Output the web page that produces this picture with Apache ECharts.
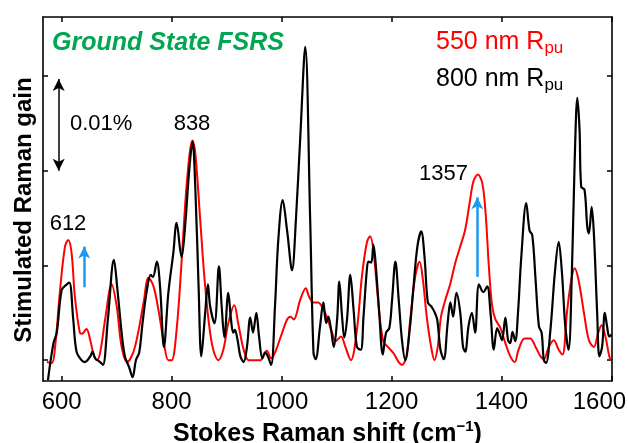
<!DOCTYPE html>
<html>
<head>
<meta charset="utf-8">
<script src="https://cdn.jsdelivr.net/npm/echarts@6/dist/echarts.min.js"></script>
<style>
  html, body { margin: 0; padding: 0; background: #fff; }
  #main { width: 628px; height: 443px; }
</style>
</head>
<body>
<div id="main"></div>
<script>
// Raman gain in units of 0.001 % (one tick step = 0.01 %)
var blackShift = [575,585,591,600,609,614,621,627,636,642,652,656,661,670,675,684,695,701,709,715,
    723,729,735,741,747,755,762,766,773,779,786,794,803,809,818,824,832,838,843,849,
    854,861,866,870,878,886,891,896,903,908,912,915,920,925,931,937,943,948,954,959,
    965,970,975,981,988,994,1002,1010,1019,1026,1034,1043,1052,1058,1062,1070,1076,1081,1085,1090,
    1095,1101,1105,1110,1114,1119,1125,1131,1137,1144,1149,1155,1158,1163,1167,1172,1178,1184,1190,1196,
    1201,1207,1213,1219,1225,1233,1240,1247,1254,1260,1266,1272,1278,1283,1289,1295,1302,1307,1312,1318,
    1325,1330,1334,1340,1346,1352,1359,1367,1374,1380,1386,1392,1396,1401,1407,1412,1416,1420,1425,1430,
    1436,1445,1451,1456,1462,1468,1473,1477,1481,1489,1497,1504,1510,1516,1522,1528,1533,1538,1542,1545,
    1551,1556,1559,1564,1568,1574,1578,1583,1588,1592,1596,1600];
var blackGain = [-2.1,1.8,2.9,7.4,8.0,8.2,4.3,0.9,0.0,-0.2,0.4,0.9,0.2,-0.2,-0.5,4.3,10.6,7.7,2.9,0.4,
    -0.8,-1.8,0.0,0.8,3.9,7.4,9.0,8.8,10.4,7.7,1.4,7.1,11.3,14.5,10.9,13.8,20.1,23.1,18.3,7.8,
    0.4,5.0,8.0,5.7,3.9,9.9,5.7,2.4,7.1,4.3,2.9,3.2,2.1,0.4,-0.2,1.4,4.5,2.9,5.0,2.5,
    0.2,0.8,0.4,-0.5,5.7,12.7,16.9,13.7,9.5,14.8,23.6,33.1,14.8,0.8,0.1,3.6,6.1,3.9,4.6,3.2,
    1.4,4.3,8.3,4.6,2.4,4.3,9.0,5.3,1.4,1.1,4.6,9.5,10.4,10.3,12.2,9.5,4.6,0.6,2.9,3.4,
    6.4,10.4,6.4,2.1,0.0,3.2,7.8,12.0,13.6,10.9,6.1,5.7,5.1,4.3,1.1,0.1,3.9,6.1,4.6,7.1,
    5.0,1.4,0.9,3.6,5.0,2.9,8.0,7.2,7.8,5.0,1.1,3.4,2.9,2.1,4.5,2.1,1.8,3.0,2.0,5.0,
    10.9,16.6,13.7,13.2,8.5,3.6,2.9,0.0,-0.3,3.2,9.2,12.5,9.2,3.6,1.1,9.2,20.8,27.7,24.3,18.3,
    18.0,14.1,13.4,16.2,13.4,5.0,0.4,1.4,5.0,3.6,2.5,2.7];

var redShift = [573,582,588,597,606,612,618,624,633,637,645,652,658,664,670,679,691,700,709,719,
    730,739,749,758,767,776,786,794,800,809,818,828,838,843,852,861,873,885,894,903,
    914,921,931,940,952,961,973,981,988,1001,1010,1016,1022,1034,1044,1050,1058,1067,1073,1082,
    1092,1098,1108,1116,1126,1137,1146,1155,1161,1167,1176,1185,1195,1204,1213,1219,1227,1234,1243,1251,
    1257,1264,1272,1278,1284,1290,1298,1307,1316,1325,1334,1342,1349,1357,1365,1371,1377,1383,1389,1398,
    1407,1416,1424,1431,1442,1452,1462,1471,1477,1486,1495,1504,1511,1519,1527,1533,1540,1550,1559,1568,
    1576,1582,1589,1595,1598];
var redGain = [-0.2,-0.3,1.4,7.4,12.0,12.7,11.3,6.7,2.9,2.8,3.3,2.1,0.6,0.0,0.8,4.3,8.0,5.7,1.4,-0.2,
    0.8,2.9,6.1,8.7,7.8,5.3,1.8,0.0,0.0,3.2,10.3,19.0,23.2,21.9,14.8,7.8,1.8,0.0,1.1,3.9,
    5.8,3.9,1.1,0.0,0.0,0.0,1.0,0.2,0.8,2.9,4.3,4.6,4.3,6.4,7.6,6.7,6.1,6.1,5.7,4.6,
    2.9,2.0,2.5,1.4,0.0,3.2,8.8,12.4,13.1,11.6,6.1,2.0,1.3,0.7,-0.2,-0.5,0.4,4.3,8.8,10.4,
    8.5,4.6,1.4,0.0,1.4,4.6,6.4,8.1,10.3,12.0,13.8,16.6,18.9,19.6,18.7,15.6,9.9,5.7,4.3,3.4,
    1.8,0.4,-0.2,1.1,2.3,2.3,1.4,0.4,0.1,1.4,2.1,1.1,0.6,5.0,8.5,9.7,8.5,5.0,2.1,1.4,
    2.9,3.7,2.5,0.7,0.0];

var xTicks = [600, 800, 1000, 1200, 1400, 1600];
var yTicks = [0, 10, 20, 30];

var FONT = 'Liberation Sans';
var BLUE = '#1a9af0';

function zip(xs, ys) {
    return xs.map(function (x, i) { return [x, ys[i]]; });
}

var Mychart = echarts.init(document.getElementById('main'), null, {renderer: 'canvas'});

var frameLine = {show: true, onZero: false, lineStyle: {color: '#000', width: 1.6}};
var tick = {show: true, inside: true, length: 5, lineStyle: {color: '#000', width: 1.5}};

var option = {
    animation: false,
    backgroundColor: '#fff',
    grid: {left: 43, top: 17, right: 16, bottom: 62, containLabel: false, outerBoundsMode: 'none'},
    xAxis: [{
        type: 'value', min: 566, max: 1601, position: 'bottom',
        axisLine: frameLine,
        axisTick: Object.assign({customValues: xTicks}, tick),
        axisLabel: {
            customValues: xTicks, color: '#000', fontSize: 24, fontFamily: FONT, margin: 9,
            formatter: function (v) { return v === 1600 ? '{last|1600}' : String(v); },
            rich: {last: {fontSize: 24, fontFamily: FONT, color: '#000', padding: [0, 24, 0, 0]}}
        },
        splitLine: {show: false},
        name: 'Stokes Raman shift (cm{sup|\u22121})',
        nameLocation: 'middle', nameGap: 36,
        nameTextStyle: {
            color: '#000', fontSize: 25, fontWeight: 'bold', fontFamily: FONT, lineHeight: 30,
            rich: {sup: {fontSize: 15, fontWeight: 'bold', fontFamily: FONT, color: '#000', verticalAlign: 'top', lineHeight: 15}}
        }
    }, {
        type: 'value', min: 566, max: 1601, position: 'top',
        axisLine: frameLine,
        axisTick: Object.assign({customValues: xTicks}, tick),
        axisLabel: {show: false},
        splitLine: {show: false}
    }],
    yAxis: [{
        type: 'value', min: -2.2, max: 36.25, position: 'left',
        axisLine: frameLine,
        axisTick: Object.assign({customValues: yTicks}, tick),
        axisLabel: {show: false},
        splitLine: {show: false},
        name: 'Stimulated Raman gain',
        nameLocation: 'middle', nameGap: 7, nameRotate: 90,
        nameTextStyle: {color: '#000', fontSize: 24, fontWeight: 'bold', fontFamily: FONT, padding: [0, 22, 0, 0]}
    }, {
        type: 'value', min: -2.2, max: 36.25, position: 'right',
        axisLine: frameLine,
        axisTick: Object.assign({customValues: yTicks}, tick),
        axisLabel: {show: false},
        splitLine: {show: false}
    }],
    series: [{
        name: '550 nm',
        type: 'line',
        data: zip(redShift, redGain),
        showSymbol: false,
        smooth: 0.35,
        z: 2,
        lineStyle: {color: '#ff0000', width: 2},
        markLine: {
            silent: true, animation: false,
            symbol: ['none', 'arrow'], symbolSize: [9, 12],
            label: {show: false},
            data: [
                [{coord: [641, 7.7], lineStyle: {color: BLUE, width: 2.5, type: 'solid'}},
                 {coord: [641, 12.0], lineStyle: {color: BLUE, width: 2.5, type: 'solid'}}],
                [{coord: [1356, 8.8], lineStyle: {color: BLUE, width: 2.5, type: 'solid'}},
                 {coord: [1356, 17.2], lineStyle: {color: BLUE, width: 2.5, type: 'solid'}}],
                [{coord: [594.5, 20.0], symbol: 'arrow', lineStyle: {color: '#000', width: 1.5, type: 'solid'}},
                 {coord: [594.5, 29.7], lineStyle: {color: '#000', width: 1.5, type: 'solid'}}]
            ]
        }
    }, {
        name: '800 nm',
        type: 'line',
        data: zip(blackShift, blackGain),
        showSymbol: false,
        smooth: 0.35,
        z: 3,
        lineStyle: {color: '#000', width: 2.2}
    }],
    graphic: [
        {type: 'text', x: 52, y: 43, style: {text: 'Ground State FSRS', fill: '#00a651',
            fontSize: 25, fontWeight: 'bold', fontStyle: 'italic', fontFamily: FONT, align: 'left', verticalAlign: 'middle'}},
        {type: 'text', x: 436, y: 42, style: {text: '550 nm R{sub|pu}', fill: '#ff0000',
            fontSize: 25, fontFamily: FONT, align: 'left', verticalAlign: 'middle', lineHeight: 30,
            rich: {sub: {fontSize: 17, fontFamily: FONT, fill: '#ff0000', verticalAlign: 'bottom', lineHeight: 17}}}},
        {type: 'text', x: 436, y: 79, style: {text: '800 nm R{sub|pu}', fill: '#000',
            fontSize: 25, fontFamily: FONT, align: 'left', verticalAlign: 'middle', lineHeight: 30,
            rich: {sub: {fontSize: 17, fontFamily: FONT, fill: '#000', verticalAlign: 'bottom', lineHeight: 17}}}},
        {type: 'text', x: 70, y: 124, style: {text: '0.01%', fill: '#000', fontSize: 22, fontFamily: FONT, align: 'left', verticalAlign: 'middle'}},
        {type: 'text', x: 192, y: 124, style: {text: '838', fill: '#000', fontSize: 22, fontFamily: FONT, align: 'center', verticalAlign: 'middle'}},
        {type: 'text', x: 68, y: 224, style: {text: '612', fill: '#000', fontSize: 22, fontFamily: FONT, align: 'center', verticalAlign: 'middle'}},
        {type: 'text', x: 468, y: 174, style: {text: '1357', fill: '#000', fontSize: 22, fontFamily: FONT, align: 'right', verticalAlign: 'middle'}}
    ]
};
Mychart.setOption(option);
</script>
</body>
</html>
